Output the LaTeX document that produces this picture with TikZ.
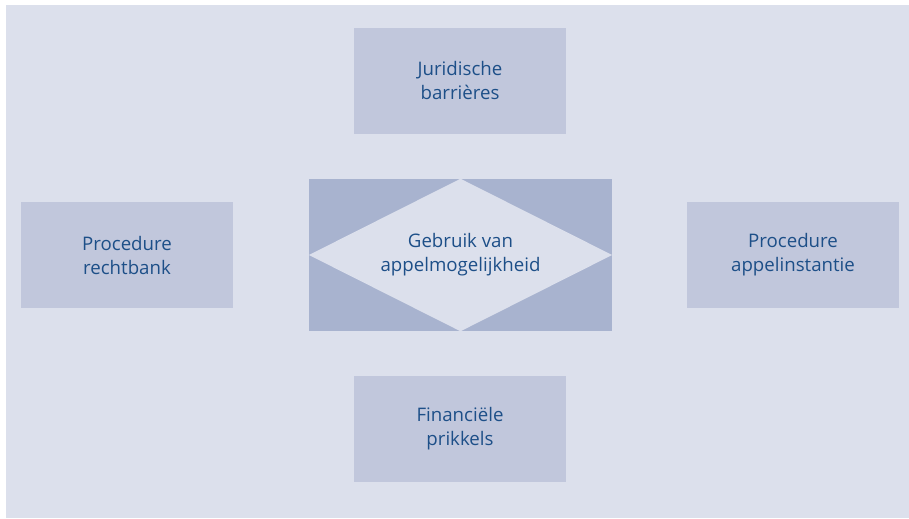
\documentclass[tikz,border=0pt]{standalone}
\usepackage{fontspec}
\setmainfont{Open Sans}

\definecolor{panelbg}{HTML}{DCE0EC}
\definecolor{boxfill}{HTML}{C1C7DC}
\definecolor{corefill}{HTML}{A8B3CF}
\definecolor{labelblue}{HTML}{1D4F88}

\begin{document}
\begin{tikzpicture}[x=0.75pt,y=-0.75pt,
  factor/.style={rectangle,fill=boxfill,minimum width=159pt,minimum height=79.5pt,
    align=center,text=labelblue,font=\fontsize{14}{18}\selectfont}]
\useasboundingbox (0,0) rectangle (909,518);
\fill[panelbg] (6,5) rectangle (909,518);

\node[factor] (JB) at (460,80.5) {Juridische\\barrières};
\node[factor] (PR) at (127,255) {Procedure\\rechtbank};
\node[factor] (PA) at (793,255) {Procedure\\appelinstantie};
\node[factor] (FP) at (460,429) {Financiële\\prikkels};

\node[factor,fill=corefill,minimum width=227pt,minimum height=114pt] (core) at (460.5,255) {};
\fill[panelbg] (core.north) -- (core.east) -- (core.south) -- (core.west) -- cycle;
\node[align=center,text=labelblue,font=\fontsize{14}{18}\selectfont] (use) at (core) {Gebruik van\\appelmogelijkheid};
\end{tikzpicture}
\end{document}
